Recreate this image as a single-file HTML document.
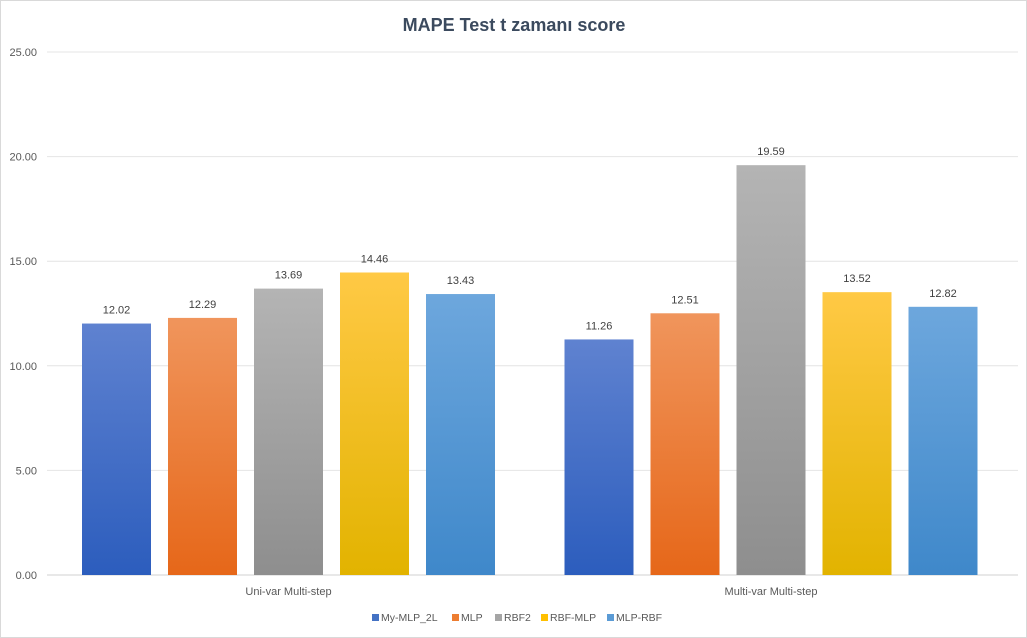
<!DOCTYPE html>
<html><head><meta charset="utf-8"><style>
body{margin:0;background:#fff;}
svg{display:block;font-family:"Liberation Sans",sans-serif;}
</style></head><body>
<svg id="c" width="1027" height="638">
<defs>
<linearGradient id="g0" x1="0" y1="0" x2="0" y2="1"><stop offset="0" stop-color="#5f82d0"/><stop offset="1" stop-color="#2c5dbd"/></linearGradient>
<linearGradient id="g1" x1="0" y1="0" x2="0" y2="1"><stop offset="0" stop-color="#f0955c"/><stop offset="1" stop-color="#e66719"/></linearGradient>
<linearGradient id="g2" x1="0" y1="0" x2="0" y2="1"><stop offset="0" stop-color="#b4b4b4"/><stop offset="1" stop-color="#8e8e8e"/></linearGradient>
<linearGradient id="g3" x1="0" y1="0" x2="0" y2="1"><stop offset="0" stop-color="#ffc945"/><stop offset="1" stop-color="#e2b300"/></linearGradient>
<linearGradient id="g4" x1="0" y1="0" x2="0" y2="1"><stop offset="0" stop-color="#6da7dd"/><stop offset="1" stop-color="#3f88ca"/></linearGradient>
</defs>
<rect x="0.5" y="0.5" width="1026" height="637" fill="#fff" stroke="#d9d9d9"/>
<text x="514" y="31" text-anchor="middle" font-size="18" font-weight="bold" fill="#3b4a5e">MAPE Test t zamanı score</text>
<g id="grid"></g><g id="bars"></g><g id="legend"></g>
</svg>
<script>
const categories=["Uni-var Multi-step","Multi-var Multi-step"];
const seriesNames=["My-MLP_2L","MLP","RBF2","RBF-MLP","MLP-RBF"];
const myMlp2l=[12.02,11.26];
const mlp=[12.29,12.51];
const rbf2=[13.69,19.59];
const rbfMlp=[14.46,13.52];
const mlpRbf=[13.43,12.82];
const yTicks=[0,5,10,15,20,25];
const series=[myMlp2l,mlp,rbf2,rbfMlp,mlpRbf];
const legendColors=["#4472c4","#ed7d31","#a5a5a5","#ffc000","#5b9bd5"];
const NS="http://www.w3.org/2000/svg";
const L=47.25,R=1012.25,T=52,B=575,yMax=25;
const y=v=>B-(v/yMax)*(B-T);
const catW=(R-L)/categories.length;
const xc=i=>L+catW*(i+0.5);
function mk(t,a,p){const e=document.createElementNS(NS,t);for(const k in a)e.setAttribute(k,a[k]);p.appendChild(e);return e;}
const grid=document.getElementById('grid');
yTicks.forEach(v=>{
 const l=mk('line',{x1:47,x2:1018,y1:y(v),y2:y(v),stroke:v===0?'#d0d0d0':'#e4e4e4','stroke-width':1},grid);
 
 
 const t=mk('text',{x:37,y:y(v)+4,'text-anchor':'end','font-size':11,fill:'#595959'},grid);
 t.textContent=v.toFixed(2);
 
 
});
categories.forEach((c,i)=>{
 const t=mk('text',{x:xc(i),y:595,'text-anchor':'middle','font-size':11,fill:'#595959'},grid);
 t.textContent=c;
 
 
});
const bars=document.getElementById('bars');
const bw=69,step=86;
categories.forEach((c,i)=>{
 series.forEach((s,j)=>{
  const x=xc(i)+(j-2)*step-bw/2;
  const r=mk('rect',{x:x,y:y(s[i]),width:bw,height:B-y(s[i]),fill:'url(#g'+j+')'},bars);
  
  
  const t=mk('text',{x:x+bw/2,y:y(s[i])-10,'text-anchor':'middle','font-size':11,fill:'#404040'},bars);
  t.textContent=s[i].toFixed(2);
  
  
 });
});
const lg=document.getElementById('legend');
let cx=372;
const widths=[80,43,46,66,80];
seriesNames.forEach((n,j)=>{
 const g=mk('g',{},lg);
 
 
 mk('rect',{x:cx,y:614,width:7,height:7,fill:legendColors[j]},g);
 const t=mk('text',{x:cx+9,y:621,'font-size':10.5,fill:'#595959'},g);
 t.textContent=n;
 cx+=widths[j];
});
</script>
</body></html>
